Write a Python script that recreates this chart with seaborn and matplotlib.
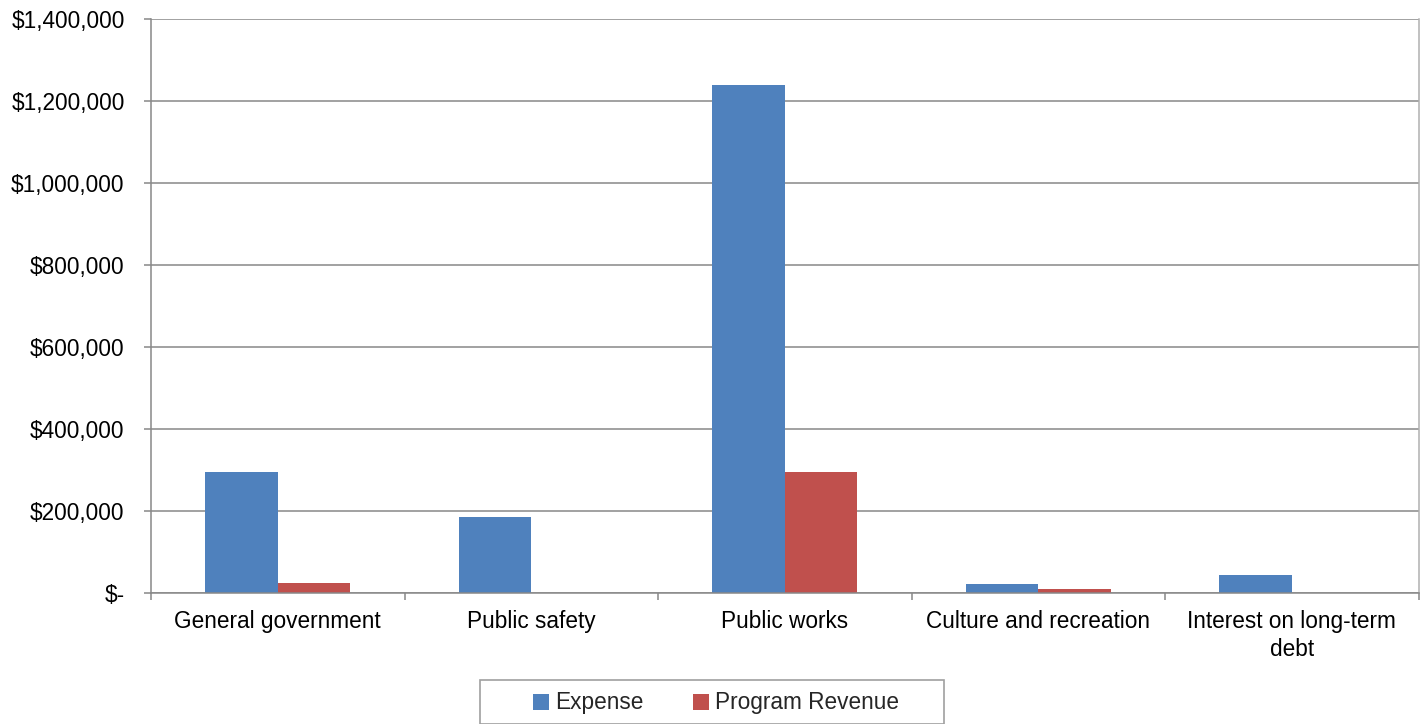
import matplotlib
matplotlib.use("Agg")
import matplotlib.pyplot as plt
import seaborn as sns
import pandas as pd
from matplotlib.ticker import FuncFormatter, FixedLocator
from matplotlib.patches import Rectangle, Patch

categories = ["General government", "Public safety", "Public works",
              "Culture and recreation", "Interest on long-term\ndebt"]
expense = [294500, 184000, 1238000, 22000, 43000]
program_revenue = [23000, 0, 294500, 9000, 0]
series_names = ["Expense", "Program Revenue"]
colors = ["#4F81BD", "#C0504D"]

df = pd.DataFrame({
    "category": categories * 2,
    "value": expense + program_revenue,
    "series": [series_names[0]] * len(categories) + [series_names[1]] * len(categories),
})

sns.set_theme(style="white")
plt.rcParams["font.family"] = ["Liberation Sans", "DejaVu Sans"]

fig = plt.figure(figsize=(14.27, 7.24), dpi=100)
ax = fig.add_axes([151 / 1427, 1 - 592.7 / 724, (1418.7 - 151) / 1427, (592.7 - 18.7) / 724])

sns.barplot(data=df, x="category", y="value", hue="series", palette=colors,
            width=0.573, gap=0, saturation=1, ax=ax, legend=False,
            edgecolor="none", linewidth=0)

ax.set_ylim(0, 1400000)
ax.set_xlim(-0.5, len(categories) - 0.5)
ax.set_yticks(range(0, 1400001, 200000))

def fmt(v, pos):
    if v == 0:
        return "$-"
    return "${:,.0f}".format(v)

ax.yaxis.set_major_formatter(FuncFormatter(fmt))
ax.set_xlabel("")
ax.set_ylabel("")

ax.yaxis.grid(True, color="#888888", linewidth=1.1)
ax.set_axisbelow(True)

ax.spines["top"].set_visible(False)
ax.spines["left"].set_color("#888888")
ax.spines["left"].set_linewidth(1.1)
ax.spines["bottom"].set_color("#888888")
ax.spines["bottom"].set_linewidth(1.1)
ax.spines["right"].set_color("#b0b0b0")
ax.spines["right"].set_linewidth(1.1)

fs = 16.3
ax.tick_params(axis="y", which="major", direction="out", length=5, width=1.1,
               color="#888888", left=True, pad=14, labelsize=fs, labelcolor="black")
ax.tick_params(axis="x", which="major", length=0, pad=12.5, labelsize=fs, labelcolor="black")
ax.xaxis.set_minor_locator(FixedLocator([i - 0.5 for i in range(len(categories) + 1)]))
ax.tick_params(axis="x", which="minor", direction="out", length=5, width=1.1,
               color="#888888", bottom=True)
for lbl in ax.get_xticklabels():
    lbl.set_linespacing(1.3)

# legend frame and entries
fig.patches.append(Rectangle((480 / 1427, 0), (944 - 480) / 1427, 1 - 680 / 724,
                             transform=fig.transFigure, fill=False,
                             edgecolor="#a0a0a0", linewidth=1.2, zorder=5))
handles = [Patch(facecolor=c, edgecolor="none") for c in colors]
fig.legend(handles, series_names, loc="center", bbox_to_anchor=(716 / 1427, 1 - 703 / 724),
           ncol=2, frameon=False, fontsize=fs, handlelength=0.7, handleheight=0.7,
           handletextpad=0.25, columnspacing=2.2)

fig.savefig("out.png", dpi=100)
